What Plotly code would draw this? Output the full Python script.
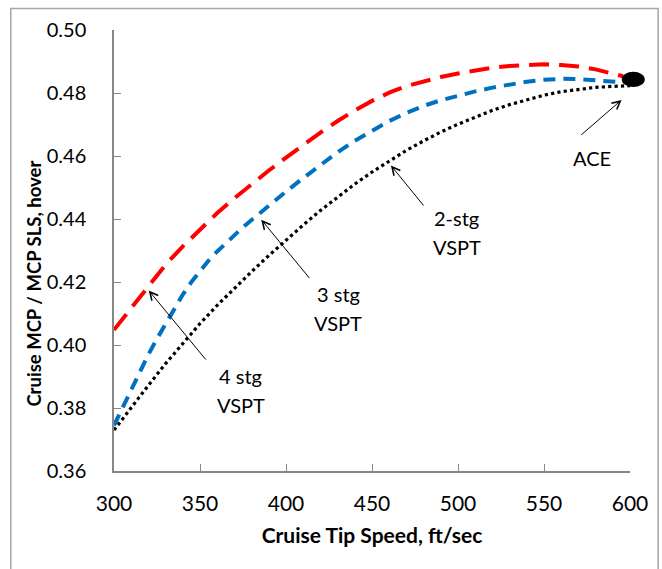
import plotly.graph_objects as go

# ---- data ----
x_4stg = [300, 310, 320, 330, 340, 350, 360, 370, 380, 390, 400, 410, 420, 430, 440, 450, 460, 470, 480, 490, 500, 510, 520, 530, 540, 550, 560, 570, 580, 590, 596]
y_4stg = [0.4048, 0.4117, 0.4188, 0.4255, 0.4313, 0.4368, 0.4419, 0.4466, 0.4511, 0.4554, 0.4595, 0.4635, 0.4674, 0.4711, 0.4745, 0.4775, 0.4801, 0.4822, 0.4838, 0.4851, 0.4862, 0.4872, 0.4880, 0.4886, 0.4890, 0.4891, 0.4889, 0.4884, 0.4875, 0.4863, 0.4853]

x_3stg = [300, 305, 310, 315, 320, 325, 330, 335, 340, 345, 350, 355, 360, 365, 370, 375, 380, 390, 400, 410, 420, 430, 440, 450, 460, 470, 480, 490, 500, 510, 520, 530, 540, 550, 560, 570, 580, 590, 596]
y_3stg = [0.3745, 0.3803, 0.3860, 0.3916, 0.3970, 0.4020, 0.4068, 0.4115, 0.4160, 0.4200, 0.4236, 0.4268, 0.4297, 0.4324, 0.4350, 0.4374, 0.4397, 0.4443, 0.4487, 0.4530, 0.4572, 0.4612, 0.4648, 0.4681, 0.4711, 0.4737, 0.4759, 0.4777, 0.4792, 0.4805, 0.4817, 0.4828, 0.4836, 0.4842, 0.4845, 0.4844, 0.4840, 0.4836, 0.4834]

x_2stg = [300, 310, 320, 330, 340, 350, 360, 370, 380, 390, 400, 410, 420, 430, 440, 450, 460, 470, 480, 490, 500, 510, 520, 530, 540, 550, 560, 570, 580, 590, 600]
y_2stg = [0.3730, 0.3803, 0.3872, 0.3941, 0.4006, 0.4068, 0.4126, 0.4181, 0.4233, 0.4284, 0.4333, 0.4381, 0.4427, 0.4470, 0.4511, 0.4549, 0.4585, 0.4618, 0.4648, 0.4676, 0.4701, 0.4724, 0.4745, 0.4763, 0.4779, 0.4793, 0.4804, 0.4812, 0.4818, 0.4821, 0.4823]

ace_x = 601.9
ace_y = 0.4843

x_range = [300, 600]
y_range = [0.36, 0.50]
x_ticks = [300, 350, 400, 450, 500, 550, 600]
y_ticks = [0.36, 0.38, 0.40, 0.42, 0.44, 0.46, 0.48, 0.50]

x_title = "Cruise Tip Speed, ft/sec"
y_title = "Cruise MCP / MCP SLS, hover"

# labels: text lines, text position (centre), arrow tail, arrow head
labels = [["ACE"], ["2-stg", "VSPT"], ["3 stg", "VSPT"], ["4 stg", "VSPT"]]
label_x = [577.7, 499.2, 430.3, 373.8]
label_y = [0.4594, 0.4357, 0.4116, 0.3857]
tail_x = [570.8, 480.7, 414.3, 354.1]
tail_y = [0.4663, 0.4438, 0.4208, 0.3949]
head_x = [595.1, 461.0, 385.6, 320.2]
head_y = [0.4778, 0.4570, 0.4398, 0.4173]

FONT = "Lato"
LINE_GAP = 29  # px between label lines

fig = go.Figure()
fig.add_trace(go.Scatter(x=x_4stg, y=y_4stg, mode="lines", line=dict(color="#FF0000", width=4, dash="20px,10px"), showlegend=False))
fig.add_trace(go.Scatter(x=x_3stg, y=y_3stg, mode="lines", line=dict(color="#0070C0", width=4, dash="12px,8px"), showlegend=False))
fig.add_trace(go.Scatter(x=x_2stg, y=y_2stg, mode="lines", line=dict(color="#000000", width=3.2, dash="dot"), showlegend=False))

# ACE point (ellipse, extends past the axis end)
fig.add_shape(type="circle", xref="paper", yref="y",
              xsizemode="pixel", ysizemode="pixel",
              xanchor=(ace_x - x_range[0]) / (x_range[1] - x_range[0]), yanchor=ace_y,
              x0=-11.5, x1=11.5, y0=-7.6, y1=7.6,
              fillcolor="black", line=dict(color="black", width=0), layer="above")

for i in range(len(labels)):
    fig.add_annotation(x=head_x[i], y=head_y[i], ax=tail_x[i], ay=tail_y[i], xref="x", yref="y", axref="x", ayref="y",
                       text="", showarrow=True, arrowhead=5, arrowsize=1.6, arrowwidth=1.0, arrowcolor="black")
    n = len(labels[i])
    for j, line in enumerate(labels[i]):
        shift = ((n - 1) / 2 - j) * LINE_GAP
        fig.add_annotation(x=label_x[i], y=label_y[i], xref="x", yref="y", text=line, showarrow=False, yshift=shift,
                           xanchor="center", yanchor="middle",
                           font=dict(family=FONT, size=20, color="black"), align="center")

# y-axis title placed as in the reference (slightly below centre)
fig.add_annotation(x=-0.155, y=0.425, xref="paper", yref="paper", text="<b>" + y_title + "</b>", textangle=-90,
                   xanchor="center", yanchor="middle",
                   showarrow=False, font=dict(family=FONT, size=18.5, color="black"))

# outer border
fig.add_shape(type="rect", xref="paper", yref="paper", x0=-0.2, x1=1.0545, y0=-0.25, y1=1.049,
              line=dict(color="#A6A6A6", width=1.5), fillcolor="rgba(0,0,0,0)", layer="below")

fig.update_layout(
    width=662, height=569,
    margin=dict(l=114, r=32, t=30, b=98),
    paper_bgcolor="white", plot_bgcolor="white",
    font=dict(family=FONT, color="black"),
)
fig.update_xaxes(range=x_range, tickvals=x_ticks, ticks="inside", ticklen=7, tickcolor="#868686",
                 showline=True, linecolor="#868686", linewidth=1.5, showgrid=False, zeroline=False,
                 tickfont=dict(family=FONT, size=21, color="black"), ticklabelstandoff=13,
                 title=dict(text="<b>" + x_title + "</b>", font=dict(family=FONT, size=21, color="black"), standoff=14))
fig.update_yaxes(range=y_range, tickvals=y_ticks, tickformat=".2f", ticks="inside", ticklen=7, tickcolor="#868686",
                 showline=True, linecolor="#868686", linewidth=1.5, showgrid=False, zeroline=False,
                 tickfont=dict(family=FONT, size=20, color="black"), ticklabelstandoff=22)

fig.write_html("out.html", config={"displayModeBar": False},
               post_script="document.body.style.margin='0px';")
